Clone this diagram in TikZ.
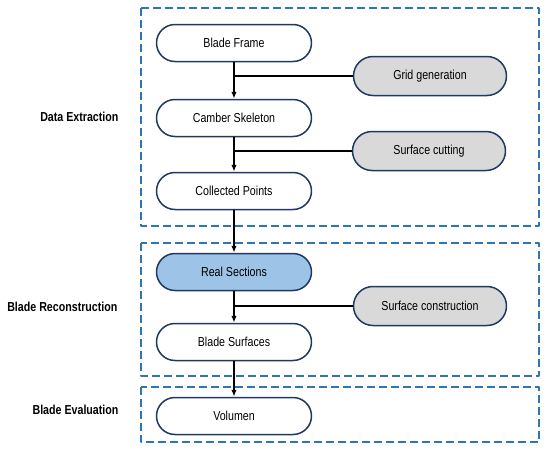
\documentclass[tikz,border=0pt]{standalone}
\usepackage{fontspec}
\setmainfont[FakeStretch=0.82]{Liberation Sans}
\usetikzlibrary{arrows.meta}
\definecolor{phaseblue}{RGB}{46,117,182}
\definecolor{navyline}{RGB}{31,56,100}
\definecolor{toolgray}{RGB}{217,217,217}
\definecolor{realblue}{RGB}{157,195,230}

\begin{document}
\begin{tikzpicture}[x=1pt,y=-1pt,line cap=round,line join=round,>={Latex[length=7pt,width=5.5pt]},
  stepnode/.style={draw=navyline,line width=1.5pt,fill=white,minimum width=155pt,minimum height=37pt,
    rounded corners=18.5pt,inner sep=0pt,font=\fontsize{13}{15}\selectfont},
  toolnode/.style={stepnode,fill=toolgray,minimum width=153pt,minimum height=39pt,rounded corners=19.5pt},
  phasebox/.style={draw=phaseblue,line width=2.4pt,line cap=butt,dash pattern=on 8pt off 4pt},
  phaselabel/.style={anchor=east,font=\fontsize{13}{15}\selectfont\bfseries}]
  \useasboundingbox (0,0) rectangle (550,453);
  % phase frames
  \draw[phasebox] (141,8) rectangle (539,226);
  \draw[phasebox] (141,243) rectangle (539,376);
  \draw[phasebox] (141,387) rectangle (539,442);
  \node[phaselabel] (lextract) at (122,117) {Data Extraction};
  \node[phaselabel] (lrecon) at (121,307) {Blade Reconstruction};
  \node[phaselabel] (leval) at (122,410) {Blade Evaluation};
  % steps
  \node[stepnode] (frame) at (234,43) {Blade Frame};
  \node[stepnode] (camber) at (234,118) {Camber Skeleton};
  \node[stepnode] (points) at (234,191) {Collected Points};
  \node[stepnode,fill=realblue] (real) at (234,272) {Real Sections};
  \node[stepnode] (surfaces) at (234,342) {Blade Surfaces};
  \node[stepnode] (volumen) at (234,416) {Volumen};
  % tools
  \node[toolnode] (grid) at (430,76) {Grid generation};
  \node[toolnode] (cutting) at (429,151) {Surface cutting};
  \node[toolnode] (construct) at (430,306) {Surface construction};
  % flow
  \draw[line width=1.4pt,->] (frame) -- (camber);
  \draw[line width=1.4pt,->] (camber) -- (points);
  \draw[line width=1.4pt,->] (points) -- (real);
  \draw[line width=1.4pt,->] (real) -- (surfaces);
  \draw[line width=1.4pt,->] (surfaces) -- (volumen);
  \draw[line width=1.4pt] (grid.west) -- (grid.west -| frame.south);
  \draw[line width=1.4pt] (cutting.west) -- (cutting.west -| camber.south);
  \draw[line width=1.4pt] (construct.west) -- (construct.west -| real.south);
\end{tikzpicture}
\end{document}
